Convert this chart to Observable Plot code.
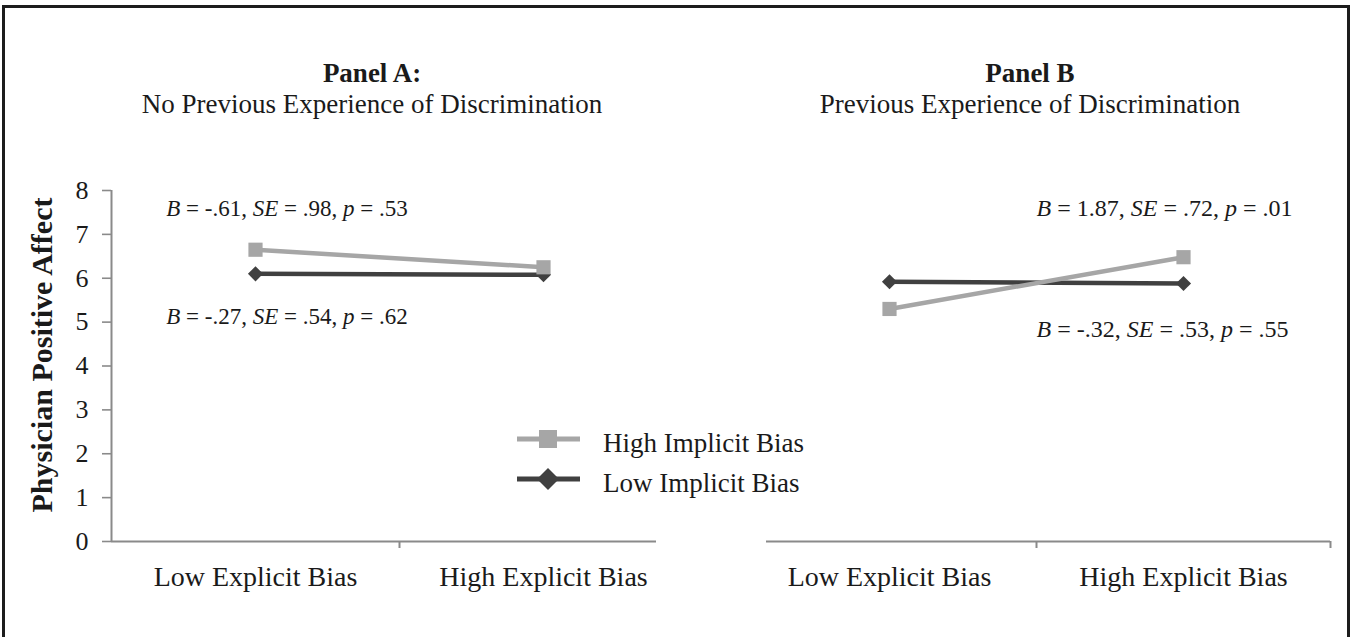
<!DOCTYPE html>
<html><head><meta charset="utf-8">
<script src="https://cdn.jsdelivr.net/npm/d3@7"></script>
<script src="https://cdn.jsdelivr.net/npm/@observablehq/plot@0.6"></script>
<style>
body{margin:0;overflow:hidden;background:#fff;}
#wrap{position:relative;width:1353px;height:637px;overflow:hidden;font-family:"Liberation Serif","Times New Roman",serif;color:#1a1a1a;background:#fff;}
.frame{position:absolute;left:2px;top:5px;width:1342px;height:720px;border:3px solid #1c1c1c;}
.ttl{position:absolute;white-space:nowrap;transform:translateX(-50%);font-size:27px;line-height:30px;}
.leg{position:absolute;white-space:nowrap;font-size:27px;line-height:30px;}
.pl{position:absolute;top:0;}
</style></head><body><div id="wrap"><div class="frame"></div></div>
<script>
// ---- data ----
const categories = ["Low Explicit Bias", "High Explicit Bias"];
const series = ["High Implicit Bias", "Low Implicit Bias"];
const panelA_high = [6.65, 6.25];
const panelA_low = [6.10, 6.08];
const panelB_high = [5.30, 6.48];
const panelB_low = [5.92, 5.88];
const yTicks = [0, 1, 2, 3, 4, 5, 6, 7, 8];
const yLabel = "Physician Positive Affect";
const titlesA = ["Panel A:", "No Previous Experience of Discrimination"];
const titlesB = ["Panel B", "Previous Experience of Discrimination"];
const annotA = [
  {text: "B = -.61, SE = .98, p = .53", x: 0.19, y: 7.41},
  {text: "B = -.27, SE = .54, p = .62", x: 0.19, y: 4.95}
];
const annotB = [
  {text: "B = 1.87, SE = .72, p = .01", x: 1.0, y: 7.41},
  {text: "B = -.32, SE = .53, p = .55", x: 1.0, y: 4.65}
];

const colors = {"High Implicit Bias": "#a6a6a6", "Low Implicit Bias": "#404040"};
const axisColor = "#8a8a8a";
const xPos = d => categories.indexOf(d.category) + 0.5;

function rows(high, low) {
  return [
    ...categories.map((c, i) => ({series: series[0], category: c, value: high[i]})),
    ...categories.map((c, i) => ({series: series[1], category: c, value: low[i]}))
  ];
}

function italicize(svg) {
  d3.select(svg).selectAll("text").each(function() {
    const t = this.textContent;
    if (!/^B = /.test(t)) return;
    const sel = d3.select(this);
    sel.text(null);
    t.split(/(\bSE\b|\bB\b|\bp\b)/).forEach(part => {
      if (!part) return;
      const ts = sel.append("tspan").text(part);
      if (/^(B|SE|p)$/.test(part)) ts.attr("font-style", "italic");
    });
  });
}

function panel({data, width, marginLeft, marginRight, yAxis, insetLeft, insetRight, sepTicks, annots, annotSize}) {
  const hi = data.filter(d => d.series === series[0]);
  const lo = data.filter(d => d.series === series[1]);
  const marks = [];
  if (yAxis) {
    marks.push(Plot.axisY({ticks: yTicks, tickSize: 9, tickPadding: 14, fontSize: 26, stroke: axisColor, strokeWidth: 1.6, fill: "#1a1a1a", label: null}));
    marks.push(Plot.ruleX([0], {y1: 0, y2: 8, stroke: axisColor, strokeWidth: 2}));
    marks.push(Plot.text([yLabel], {text: d => d, frameAnchor: "left", textAnchor: "middle", rotate: -90, dx: -69, dy: -11, fontSize: 30, fontWeight: "bold", fill: "#1a1a1a"}));
  }
  marks.push(
    Plot.ruleY([0], {stroke: axisColor, strokeWidth: 2.2, insetLeft, insetRight}),
    Plot.axisX({ticks: [0.5, 1.5], tickFormat: d => categories[Math.round(d - 0.5)], tickSize: 0, tickPadding: 25, fontSize: 28, fill: "#1a1a1a", label: null}),
    Plot.axisX({ticks: sepTicks, tickSize: 7, tickFormat: () => "", stroke: axisColor, strokeWidth: 2, label: null}),
    Plot.line(lo, {x: xPos, y: "value", stroke: colors[series[1]], strokeWidth: 4.5}),
    Plot.line(hi, {x: xPos, y: "value", stroke: colors[series[0]], strokeWidth: 4.5}),
    Plot.dot(lo, {x: xPos, y: "value", symbol: "diamond2", r: 6.8, fill: colors[series[1]]}),
    Plot.dot(hi, {x: xPos, y: "value", symbol: "square", r: 8, fill: colors[series[0]]}),
    Plot.text(annots, {x: "x", y: "y", text: "text", textAnchor: "start", lineAnchor: "bottom", fontSize: annotSize, fill: "#1a1a1a"})
  );
  const svg = Plot.plot({
    width, height: 637,
    marginLeft, marginRight, marginTop: 190, marginBottom: 96,
    x: {domain: [0, 2], axis: null},
    y: {domain: [0, 8], axis: null},
    style: {fontFamily: "Liberation Serif, Times New Roman, serif", color: "#1a1a1a", background: "transparent", overflow: "visible"},
    marks
  });
  italicize(svg);
  return svg;
}

const wrap = document.getElementById("wrap");

const svgA = panel({data: rows(panelA_high, panelA_low), width: 700, marginLeft: 111, marginRight: 13,
  yAxis: true, insetLeft: 0, insetRight: 31, sepTicks: [1], annots: annotA, annotSize: 23});
svgA.classList.add("pl"); svgA.style.left = "0px";
wrap.appendChild(svgA);

const svgB = panel({data: rows(panelB_high, panelB_low), width: 653, marginLeft: 42, marginRight: 23,
  yAxis: false, insetLeft: 24, insetRight: 0, sepTicks: [1, 2], annots: annotB, annotSize: 24});
svgB.classList.add("pl"); svgB.style.left = "700px";
wrap.appendChild(svgB);

// titles
function addTitle(lines, cx) {
  [[lines[0], 58, "bold"], [lines[1], 89, "normal"]].forEach(([t, top, w]) => {
    const d = document.createElement("div");
    d.className = "ttl"; d.textContent = t;
    d.style.left = cx + "px"; d.style.top = top + "px"; d.style.fontWeight = w;
    wrap.appendChild(d);
  });
}
addTitle(titlesA, 372);
addTitle(titlesB, 1030);

// legend
const legSvg = d3.create("svg").attr("width", 90).attr("height", 80)
  .style("position", "absolute").style("left", "510px").style("top", "420px");
[[series[0], 19], [series[1], 59]].forEach(([s, y], i) => {
  legSvg.append("line").attr("x1", 7).attr("x2", 70).attr("y1", y).attr("y2", y)
    .attr("stroke", colors[s]).attr("stroke-width", 5);
  if (i === 0) legSvg.append("rect").attr("x", 29).attr("y", y - 9).attr("width", 18).attr("height", 18).attr("fill", colors[s]);
  else legSvg.append("path").attr("d", `M38,${y - 11}L49,${y}L38,${y + 11}L27,${y}Z`).attr("fill", colors[s]);
  const t = document.createElement("div");
  t.className = "leg"; t.textContent = s;
  t.style.left = "603px"; t.style.top = (420 + y - 15 + 4) + "px";
  wrap.appendChild(t);
});
wrap.appendChild(legSvg.node());
</script></body></html>
